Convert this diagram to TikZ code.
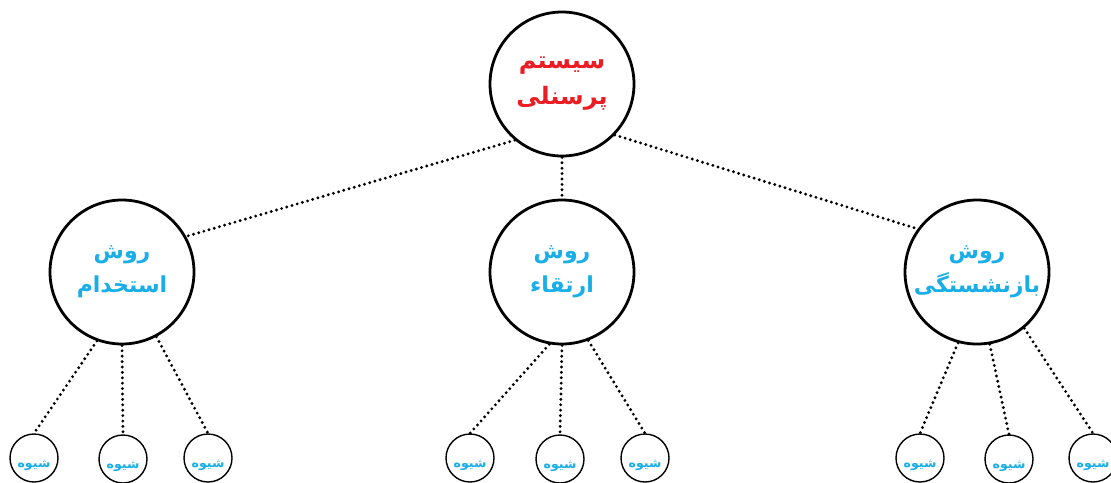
\documentclass[tikz,border=0pt]{standalone}
\usepackage{fontspec}
\usepackage{xcolor}
\usepackage{tikz}
\usetikzlibrary{shapes,positioning,calc}
\TeXXeTstate=1
\newfontfamily\arabicfont[Script=Arabic]{DejaVu Sans}
\definecolor{sysred}{HTML}{EC1C24}
\definecolor{wayblue}{HTML}{1AAEE8}
\newcommand{\wayname}{\raisebox{-4.5pt}[0pt][0pt]{\beginR شیوه\endR}}

\tikzset{
    sysnode/.style={draw,circle,line width=1.4pt,minimum size=72pt,inner sep=0pt,align=center,
        text=sysred,font=\arabicfont\bfseries\fontsize{12}{18}\selectfont},
    waynode/.style={draw,circle,line width=1.4pt,minimum size=72pt,inner sep=0pt,align=center,
        text=wayblue,font=\arabicfont\bfseries\fontsize{11}{17}\selectfont},
    subnode/.style={draw,circle,line width=0.7pt,minimum size=24pt,inner sep=0pt,
        text=wayblue,font=\arabicfont\bfseries\fontsize{6.3}{8}\selectfont},
    link/.style={line width=1.6pt,line cap=round,dash pattern=on 0pt off 2.7pt}
}

\begin{document}
\begin{tikzpicture}[x=0.5pt,y=-0.5pt]
    \useasboundingbox (0,0) rectangle (1111,482);

    % Top system
    \node[sysnode] (sys) at (562,84) {\beginR سیستم\endR\\\beginR پرسنلی\endR};

    % Methods
    \node[waynode] (hire) at (122,272) {\beginR روش\endR\\\beginR استخدام\endR};
    \node[waynode] (promo) at (562,272) {\beginR روش\endR\\\beginR ارتقاء\endR};
    \node[waynode] (retire) at (977,272) {\beginR روش\endR\\\beginR بازنشستگی\endR};

    \draw[link] (sys.-130) -- (hire.29);
    \draw[link] (sys.south) -- (promo.north);
    \draw[link] (sys.-44) -- (retire.144);

    % Ways under each method
    \node[subnode] (h1) at (34,458) {\wayname};
    \node[subnode] (h2) at (123,459) {\wayname};
    \node[subnode] (h3) at (208,458) {\wayname};

    \node[subnode] (p1) at (470,458) {\wayname};
    \node[subnode] (p2) at (560,459) {\wayname};
    \node[subnode] (p3) at (645,458) {\wayname};

    \node[subnode] (r1) at (920,458) {\wayname};
    \node[subnode] (r2) at (1009,459) {\wayname};
    \node[subnode] (r3) at (1093,458) {\wayname};

    \draw[link] (hire.-110) -- (h1.north);
    \draw[link] (hire.-90) -- (h2.north);
    \draw[link] (hire.-62) -- (h3.north);

    \draw[link] (promo.-100) -- (p1.north);
    \draw[link] (promo.-90) -- (p2.north);
    \draw[link] (promo.-69) -- (p3.north);

    \draw[link] (retire.-105) -- (r1.north);
    \draw[link] (retire.-80) -- (r2.north);
    \draw[link] (retire.-50) -- (r3.north);
\end{tikzpicture}
\end{document}
